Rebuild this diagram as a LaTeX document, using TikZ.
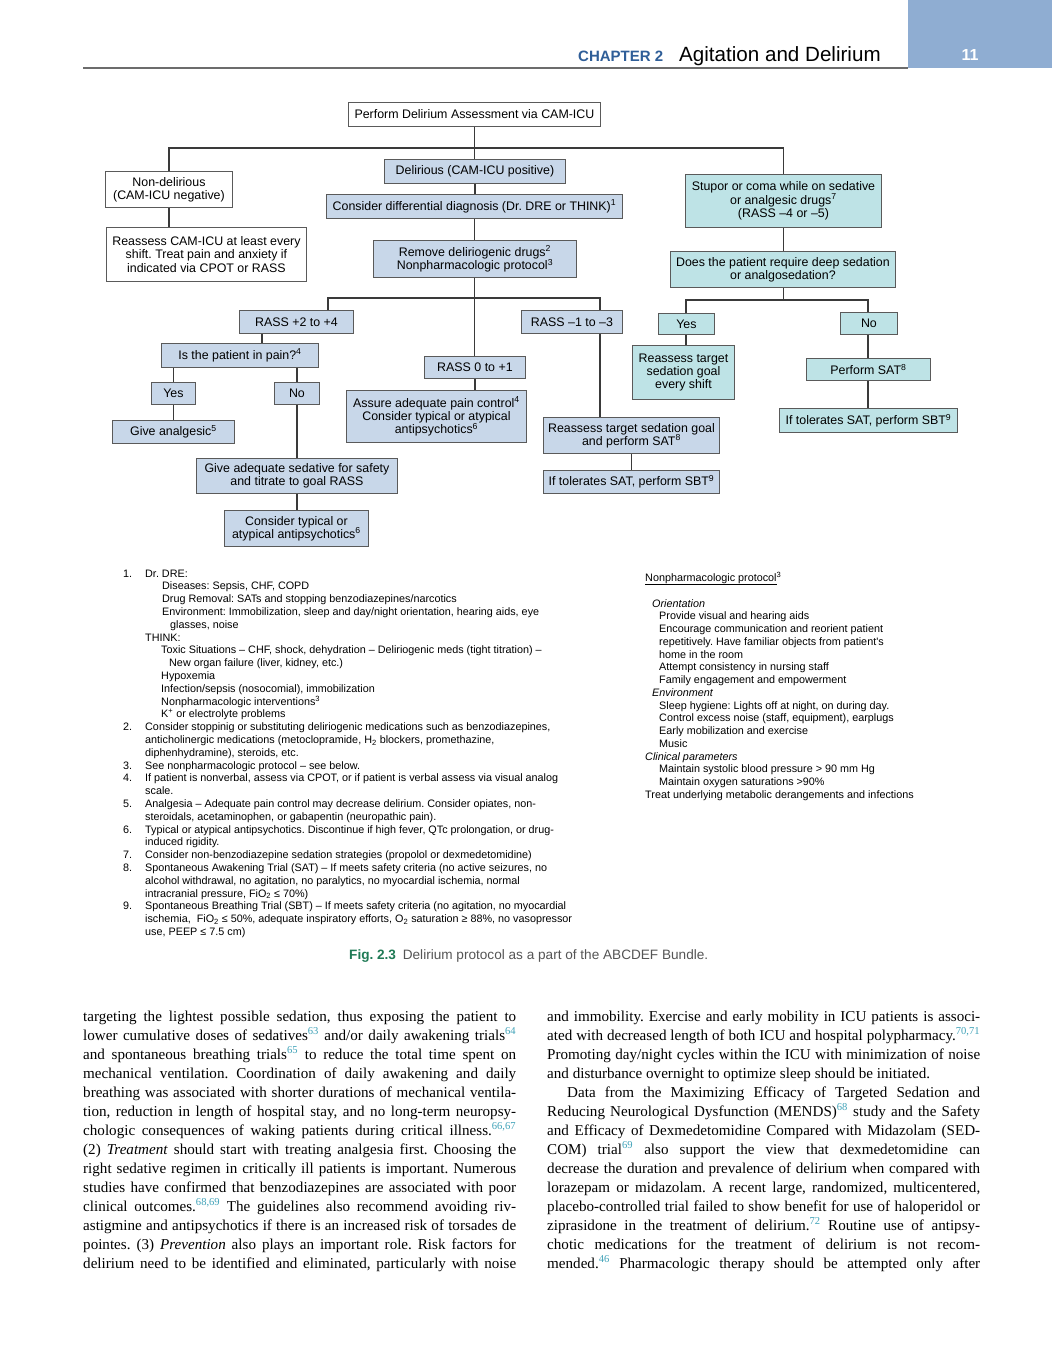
\documentclass[tikz,border=0pt]{standalone}
\usepackage{fontspec}
\setmainfont{Liberation Serif}
\newfontfamily\hv{Liberation Sans}
\usetikzlibrary{calc}
\frenchspacing
\definecolor{bbox}{HTML}{C8D7E9}
\definecolor{tbox}{HTML}{BEE3E6}
\definecolor{hdrblue}{HTML}{8FADD2}
\definecolor{chap}{HTML}{2F5E98}
\definecolor{figgreen}{HTML}{1F7A55}
\definecolor{capgray}{HTML}{555555}
\definecolor{citec}{HTML}{3FA2B8}
\definecolor{lc}{HTML}{3A3A3A}
\definecolor{bc}{HTML}{5A5A5A}
\newcommand\fcfont{\hv\fontsize{12.4}{13.3}\selectfont}
\newcommand\fnfont{\hv\fontsize{10.8}{12.8}\selectfont}
\newcommand\bodyfont{\fontsize{15.1}{19}\selectfont}
\newcommand\sps[1]{\textsuperscript{#1}}
\newcommand\cit[1]{\textcolor{citec}{\textsuperscript{#1}}}
\newcounter{tl}
\newcommand\mkname{\stepcounter{tl}\edef\tlname{tl\arabic{tl}}}
\newcommand\bx[7]{\node[fc,fill=#6,minimum width={#4-#2},minimum height={#5-#3}] (#1) at (#2,#3) {#7};}
\newcommand\fl[3]{\mkname\node[fnt] (\tlname) at (#1,{577+12.8*#2}) {#3};}
\newcommand\nl[3]{\mkname\node[fnt] (\tlname) at (#1,{607+12.75*#2}) {#3};}
\newcommand\jl[3]{\mkname\node[bdy] (\tlname) at (#1,{1021+19*#2}) {\makebox[433pt][s]{#3}};}
\tikzset{
  fc/.style={draw=bc,line width=0.9pt,inner sep=0pt,align=center,anchor=north west,font=\fcfont},
  ln/.style={draw=lc,line width=1.3pt},
  fnt/.style={anchor=base west,inner sep=0pt,font=\fnfont},
  bdy/.style={anchor=base west,inner sep=0pt,font=\bodyfont},
}
\begin{document}
\frenchspacing
\begin{tikzpicture}[x=1pt,y=-1pt]
\useasboundingbox (0,0) rectangle (1052,1346);
\fill[white] (0,0) rectangle (1052,1346);
% header
\fill[hdrblue] (908,0) rectangle (1052,68);
\draw[draw=gray!85!black,line width=2.2pt] (83,68) -- (908,68);
\node[anchor=base west,inner sep=0pt,font=\hv\bfseries\fontsize{15}{16}\selectfont,text=chap] (chap) at (578,62) {CHAPTER 2};
\node[anchor=base west,inner sep=0pt,font=\hv\fontsize{20.6}{22}\selectfont] (title) at (679,62) {Agitation and Delirium};
\node[anchor=base,inner sep=0pt,font=\hv\bfseries\fontsize{16}{18}\selectfont,text=white] (pg) at (970,61) {11};
% boxes
\bx{top}{348}{102}{600}{126}{white}{Perform Delirium Assessment via CAM-ICU}
\bx{nondel}{105}{171}{232}{207}{white}{Non-delirious\\(CAM-ICU negative)}
\bx{reass}{106}{227}{306}{281}{white}{Reassess CAM-ICU at least every\\shift. Treat pain and anxiety if\\indicated via CPOT or RASS}
\bx{del}{384}{159}{565}{183}{bbox}{Delirious (CAM-ICU positive)}
\bx{diff}{326}{194}{622}{218}{bbox}{Consider differential diagnosis (Dr. DRE or THINK)\sps{1}}
\bx{rem}{373}{240}{576}{277}{bbox}{Remove deliriogenic drugs\sps{2}\\Nonpharmacologic protocol\sps{3}}
\bx{rass2}{239}{310}{353}{333}{bbox}{RASS +2 to +4}
\bx{pain}{161}{343}{318}{367}{bbox}{Is the patient in pain?\sps{4}}
\bx{yes1}{151}{382}{195}{404}{bbox}{Yes}
\bx{no1}{274}{382}{319}{404}{bbox}{No}
\bx{analg}{112}{420}{234}{443}{bbox}{Give analgesic\sps{5}}
\bx{sedat}{196}{458}{397}{493}{bbox}{Give adequate sedative for safety\\and titrate to goal RASS}
\bx{typ}{224}{510}{368}{546}{bbox}{Consider typical or\\atypical antipsychotics\sps{6}}
\bx{rass0}{424}{356}{525}{378}{bbox}{RASS 0 to +1}
\bx{assure}{346}{390}{526}{442}{bbox}{Assure adequate pain control\sps{4}\\Consider typical or atypical\\antipsychotics\sps{6}}
\bx{rassm}{521}{310}{622}{333}{bbox}{RASS –1 to –3}
\bx{retsat}{543}{417}{719}{453}{bbox}{Reassess target sedation goal\\and perform SAT\sps{8}}
\bx{sbt1}{543}{470}{719}{493}{bbox}{If tolerates SAT, perform SBT\sps{9}}
\bx{stup}{685}{174}{881}{227}{tbox}{Stupor or coma while on sedative\\or analgesic drugs\sps{7}\\(RASS –4 or –5)}
\bx{deep}{670}{251}{895}{287}{tbox}{Does the patient require deep sedation\\or analgosedation?}
\bx{yes2}{658}{313}{714}{334}{tbox}{Yes}
\bx{no2}{840}{312}{897}{334}{tbox}{No}
\bx{retsh}{632}{345}{734}{399}{tbox}{Reassess target\\sedation goal\\every shift}
\bx{psat}{806}{358}{930}{380}{tbox}{Perform SAT\sps{8}}
\bx{sbt2}{779}{408}{957}{432}{tbox}{If tolerates SAT, perform SBT\sps{9}}
% connectors
\coordinate (h1) at (474,148);
\draw[ln] (top.south) -- (top.south |- del.north);
\draw[ln] (nondel.north) |- (h1) -| (stup.north);
\draw[ln] (nondel.south) -- (nondel.south |- reass.north);
\draw[ln] (del.south) -- (del.south |- diff.north);
\draw[ln] (diff.south) -- (diff.south |- rem.north);
\draw[ln] (rem.south -| diff.south) -- (rass0.north -| diff.south);
\coordinate (h2l) at (328,298);
\coordinate (h2r) at (600,298);
\draw[ln] (rass2.north -| h2l) |- (h2r) -- (h2r |- rassm.north);
\coordinate (c1) at (262,0);
\draw[ln] (rass2.south -| c1) -- (pain.north -| c1);
\draw[ln] (yes1.north) -- (yes1.north |- pain.south);
\draw[ln] (no1.north) -- (no1.north |- pain.south);
\draw[ln] (yes1.south) -- (yes1.south |- analg.north);
\draw[ln] (no1.south) -- (no1.south |- sedat.north);
\draw[ln] (sedat.south) -- (sedat.south |- typ.north);
\draw[ln] (rass0.south) -- (rass0.south |- assure.north);
\draw[ln] (rassm.south -| h2r) -- (retsat.north -| h2r);
\draw[ln] (retsat.south) -- (retsat.south |- sbt1.north);
\draw[ln] (stup.south) -- (stup.south |- deep.north);
\coordinate (h3l) at (686,300);
\coordinate (h3r) at (868,300);
\draw[ln] (deep.south -| stup.south) -- (h3l -| stup.south);
\draw[ln] (yes2.north -| h3l) |- (h3r) -- (h3r |- no2.north);
\draw[ln] (yes2.south -| h3l) -- (retsh.north -| h3l);
\draw[ln] (no2.south -| h3r) -- (psat.north -| h3r);
\draw[ln] (psat.south -| h3r) -- (sbt2.north -| h3r);
% footnotes left
\fl{123}{0}{1.}
\fl{145}{0}{Dr. DRE:}
\fl{162}{1}{Diseases: Sepsis, CHF, COPD}
\fl{162}{2}{Drug Removal: SATs and stopping benzodiazepines/narcotics}
\fl{162}{3}{Environment: Immobilization, sleep and day/night orientation, hearing aids, eye}
\fl{170}{4}{glasses, noise}
\fl{145}{5}{THINK:}
\fl{161}{6}{Toxic Situations – CHF, shock, dehydration – Deliriogenic meds (tight titration) –}
\fl{169}{7}{New organ failure (liver, kidney, etc.)}
\fl{161}{8}{Hypoxemia}
\fl{161}{9}{Infection/sepsis (nosocomial), immobilization}
\fl{161}{10}{Nonpharmacologic interventions\textsuperscript{3}}
\fl{161}{11}{K\textsuperscript{+} or electrolyte problems}
\fl{123}{12}{2.}
\fl{145}{12}{Consider stoppinig or substituting deliriogenic medications such as benzodiazepines,}
\fl{145}{13}{anticholinergic medications (metoclopramide, H\textsubscript{2} blockers, promethazine,}
\fl{145}{14}{diphenhydramine), steroids, etc.}
\fl{123}{15}{3.}
\fl{145}{15}{See nonpharmacologic protocol – see below.}
\fl{123}{16}{4.}
\fl{145}{16}{If patient is nonverbal, assess via CPOT, or if patient is verbal assess via visual analog}
\fl{145}{17}{scale.}
\fl{123}{18}{5.}
\fl{145}{18}{Analgesia – Adequate pain control may decrease delirium. Consider opiates, non-}
\fl{145}{19}{steroidals, acetaminophen, or gabapentin (neuropathic pain).}
\fl{123}{20}{6.}
\fl{145}{20}{Typical or atypical antipsychotics. Discontinue if high fever, QTc prolongation, or drug-}
\fl{145}{21}{induced rigidity.}
\fl{123}{22}{7.}
\fl{145}{22}{Consider non-benzodiazepine sedation strategies (propolol or dexmedetomidine)}
\fl{123}{23}{8.}
\fl{145}{23}{Spontaneous Awakening Trial (SAT) – If meets safety criteria (no active seizures, no}
\fl{145}{24}{alcohol withdrawal, no agitation, no paralytics, no myocardial ischemia, normal}
\fl{145}{25}{intracranial pressure, FiO\textsubscript{2} ≤ 70\%)}
\fl{123}{26}{9.}
\fl{145}{26}{Spontaneous Breathing Trial (SBT) – If meets safety criteria (no agitation, no myocardial}
\fl{145}{27}{ischemia,\ \ FiO\textsubscript{2} ≤ 50\%, adequate inspiratory efforts, O\textsubscript{2} saturation ≥ 88\%, no vasopressor}
\fl{145}{28}{use, PEEP ≤ 7.5 cm)}
% nonpharmacologic protocol
\node[fnt] (nptitle) at (645,581) {\underline{Nonpharmacologic protocol}\textsuperscript{3}};
\nl{652}{0}{\itshape Orientation}
\nl{659}{1}{Provide visual and hearing aids}
\nl{659}{2}{Encourage communication and reorient patient}
\nl{659}{3}{repetitively. Have familiar objects from patient's}
\nl{659}{4}{home in the room}
\nl{659}{5}{Attempt consistency in nursing staff}
\nl{659}{6}{Family engagement and empowerment}
\nl{652}{7}{\itshape Environment}
\nl{659}{8}{Sleep hygiene: Lights off at night, on during day.}
\nl{659}{9}{Control excess noise (staff, equipment), earplugs}
\nl{659}{10}{Early mobilization and exercise}
\nl{659}{11}{Music}
\nl{645}{12}{\itshape Clinical parameters}
\nl{659}{13}{Maintain systolic blood pressure > 90 mm Hg}
\nl{659}{14}{Maintain oxygen saturations >90\%}
\nl{645}{15}{Treat underlying metabolic derangements and infections}
% caption
\node[anchor=base west,inner sep=0pt,font=\hv\fontsize{13.6}{15}\selectfont] (cap) at (349,959) {\textcolor{figgreen}{\bfseries Fig. 2.3}\enspace\textcolor{capgray}{Delirium protocol as a part of the ABCDEF Bundle.}};
% body text left
\jl{83}{0}{targeting the lightest possible sedation, thus exposing the patient to}
\jl{83}{1}{lower cumulative doses of sedatives\cit{63} and/or daily awakening trials\cit{64}}
\jl{83}{2}{and spontaneous breathing trials\cit{65} to reduce the total time spent on}
\jl{83}{3}{mechanical ventilation. Coordination of daily awakening and daily}
\jl{83}{4}{breathing was associated with shorter durations of mechanical ventila-}
\jl{83}{5}{tion, reduction in length of hospital stay, and no long-term neuropsy-}
\jl{83}{6}{chologic consequences of waking patients during critical illness.\cit{66,67}}
\jl{83}{7}{(2) \textit{Treatment} should start with treating analgesia first. Choosing the}
\jl{83}{8}{right sedative regimen in critically ill patients is important. Numerous}
\jl{83}{9}{studies have confirmed that benzodiazepines are associated with poor}
\jl{83}{10}{clinical outcomes.\cit{68,69} The guidelines also recommend avoiding riv-}
\jl{83}{11}{astigmine and antipsychotics if there is an increased risk of torsades de}
\jl{83}{12}{pointes. (3) \textit{Prevention} also plays an important role. Risk factors for}
\jl{83}{13}{delirium need to be identified and eliminated, particularly with noise}
% body text right
\jl{547}{0}{and immobility. Exercise and early mobility in ICU patients is associ-}
\jl{547}{1}{ated with decreased length of both ICU and hospital polypharmacy.\cit{70,71}}
\jl{547}{2}{Promoting day/night cycles within the ICU with minimization of noise}
\node[bdy] (r3) at (547,{1021+19*3}) {and disturbance overnight to optimize sleep should be initiated.};
\node[bdy] (r4) at (567,{1021+19*4}) {\makebox[413pt][s]{Data from the Maximizing Efficacy of Targeted Sedation and}};
\jl{547}{5}{Reducing Neurological Dysfunction (MENDS)\cit{68} study and the Safety}
\jl{547}{6}{and Efficacy of Dexmedetomidine Compared with Midazolam (SED-}
\jl{547}{7}{COM) trial\cit{69} also support the view that dexmedetomidine can}
\jl{547}{8}{decrease the duration and prevalence of delirium when compared with}
\jl{547}{9}{lorazepam or midazolam. A recent large, randomized, multicentered,}
\jl{547}{10}{placebo-controlled trial failed to show benefit for use of haloperidol or}
\jl{547}{11}{ziprasidone in the treatment of delirium.\cit{72} Routine use of antipsy-}
\jl{547}{12}{chotic medications for the treatment of delirium is not recom-}
\jl{547}{13}{mended.\cit{46} Pharmacologic therapy should be attempted only after}
\end{tikzpicture}
\end{document}
